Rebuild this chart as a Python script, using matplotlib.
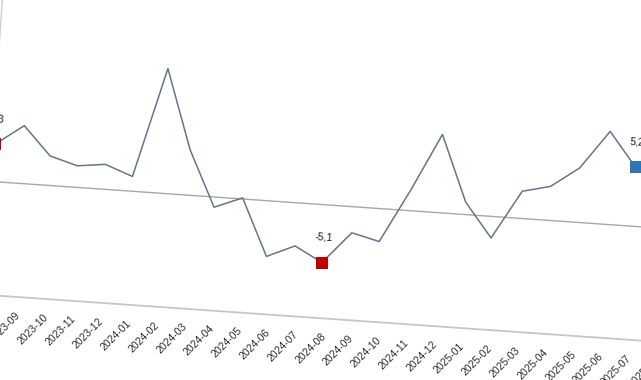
import numpy as np
import matplotlib
matplotlib.use('Agg')
import matplotlib.pyplot as plt
from matplotlib.transforms import Affine2D

plt.rcParams['font.family'] = ['Liberation Sans', 'DejaVu Sans']

months = ['2023-08', '2023-09', '2023-10', '2023-11', '2023-12',
          '2024-01', '2024-02', '2024-03', '2024-04', '2024-05', '2024-06',
          '2024-07', '2024-08', '2024-09', '2024-10', '2024-11', '2024-12',
          '2025-01', '2025-02', '2025-03', '2025-04', '2025-05', '2025-06',
          '2025-07', '2025-08']
values = [3.3, 5.1, 2.6, 1.9, 2.2, 1.3, 11.0, 4.0, -0.9, 0.1, -4.9, -3.8,
          -5.1, -2.3, -2.9, 1.8, 6.9, 1.1, -1.9, 2.4, 3.0, 4.8, 8.2, 5.2,
          np.nan]
# highlighted points: first, minimum, last
marked = [0, 12, 23]
marked_colors = ['#c00000', '#c00000', '#2e75b6']

fig = plt.figure(figsize=(6.41, 3.80), dpi=100)
ax = fig.add_axes([0, 0, 1, 1])
ax.set_axis_off()

# the chart in the picture is photographed slightly tilted
x0, y0 = -7.5, 198.5      # pixel position of first month / zero
step, unit = 27.85, 11.35  # pixels per month, pixels per unit
tilt = -4.0
tr = ax.transData + Affine2D().rotate_deg_around(x0, y0, tilt)

ymin, ytop = -10, 20
xs = np.arange(len(months))
xl = [-0.1, len(months)]

ax.plot(xl, [0, 0], color='#a8a8a8', lw=1.0, transform=tr)
ax.plot(xl, [ymin, ymin], color='#c6c6c6', lw=1.3, transform=tr)
ax.plot([xl[0], xl[0]], [ymin, ytop], color='#d0d0d0', lw=1.0, transform=tr)
ax.plot(xs, values, color='#63768a', lw=1.1, transform=tr, zorder=2)

for i, c in zip(marked, marked_colors):
    ax.plot(xs[i], values[i], 's', ms=8.5, color=c, mew=0, transform=tr, zorder=3)
    ax.annotate(f'{values[i]:.1f}'.replace('.', ','), xy=(xs[i], values[i]),
                xycoords=tr, xytext=(2, 25), textcoords='offset pixels',
                ha='center', va='center', fontsize=7.5, rotation=tilt,
                color='#1a1a1a')

for i, m in enumerate(months):
    ax.annotate(m, xy=(i, ymin), xycoords=tr, xytext=(6, -17),
                textcoords='offset pixels', rotation=45, rotation_mode='anchor',
                ha='right', va='center', fontsize=7.5, color='#2b2b2b')

ax.set_xlim(-x0 / step, (641 - x0) / step)
ax.set_ylim(-y0 / unit, (380 - y0) / unit)

fig.savefig('out.png', dpi=100)
